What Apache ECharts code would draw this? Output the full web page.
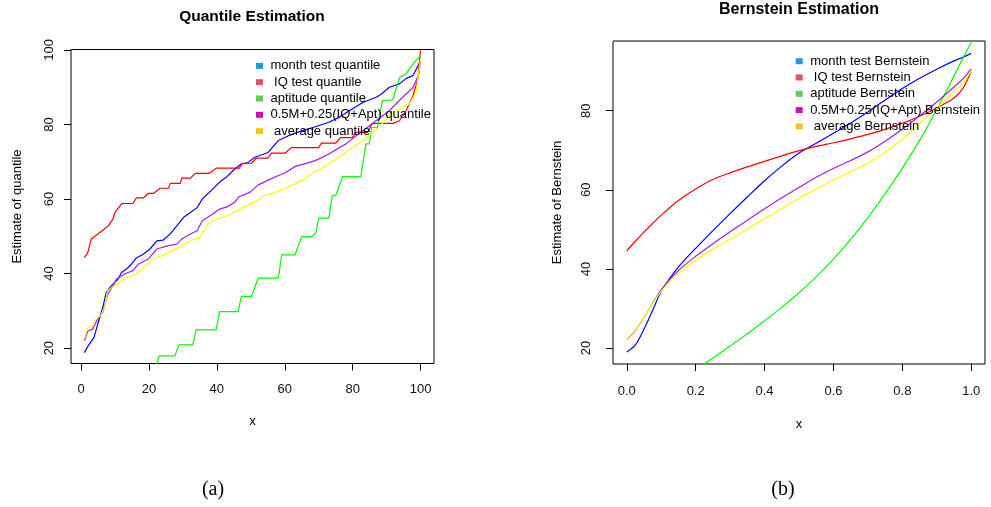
<!DOCTYPE html>
<html>
<head>
<meta charset="utf-8">
<title>Quantile and Bernstein Estimation</title>
<style>
html, body { margin: 0; padding: 0; background: #fff; }
#main { width: 991px; height: 507px; }
</style>
</head>
<body>
<div id="main"></div>
<script src="https://cdn.jsdelivr.net/npm/echarts@6/dist/echarts.min.js"></script>
<script>
// ---- data ----
// (a) quantile estimates, [x, value]
var quantileMonth = [[1,18.8],[2,20.5],[3.8,22.8],[4.9,26.4],[6.4,30.9],[7.4,34.9],[8.9,36.7],[10.9,38.5],[11.9,40.3],[13.4,41.2],[14.8,42.5],[16.3,44.2],[18.3,45.2],[20.3,46.6],[22.3,48.8],[24.2,49.0],[26.2,50.6],[28.2,52.8],[30.2,55.1],[32.2,56.4],[34.2,57.7],[35.7,60.0],[37.8,61.8],[39.8,63.6],[41.3,64.9],[43,66.0],[45.2,68.0],[47.2,69.4],[49,69.7],[51.2,71.2],[55.1,72.5],[58.1,75.7],[61.1,77.0],[65,78.3],[69,79.4],[73,80.6],[76,81.9],[79,83.7],[83,85.9],[86.9,87.3],[88.5,88.2],[90.8,90.0],[93.8,90.9],[95.7,92.3],[97.7,93.1],[100,97.0]];
var quantileIQ = [[1,44.3],[2,45.7],[3,49.3],[5,50.6],[6.5,51.7],[8,52.8],[9.4,54.6],[10,56.4],[12,58.8],[15.3,58.8],[16.3,60.3],[18.3,60.3],[19.8,61.5],[21.3,61.5],[23.3,62.9],[25.8,62.9],[26.3,64.2],[29.2,64.2],[29.7,65.6],[32.2,65.6],[33.7,66.9],[37.8,66.9],[39.8,68.3],[46.6,68.3],[47.6,69.6],[50.2,69.6],[51.7,71.0],[55.1,71.0],[56,72.3],[60.1,72.3],[61.9,73.8],[70,73.8],[70.8,75.0],[75,75.0],[76.4,76.5],[79.9,76.5],[81,77.9],[84.4,77.9],[85.8,80.3],[92,80.3],[93.8,81.0],[95.7,83.7],[97.7,87.5],[99.2,92.2],[100,100]];
var quantileApt = [[22,14.9],[23,17.9],[27.6,17.9],[28.9,20.9],[32.9,20.9],[33.9,24.9],[39.8,24.9],[40.8,29.8],[46.3,29.8],[47.2,33.9],[50.2,33.9],[52.2,38.8],[58.1,38.8],[59.1,45.0],[63,45.0],[65,49.9],[68,49.9],[69.2,51.0],[70,54.9],[73,54.9],[74,60.9],[75,60.9],[77,66.0],[82.4,66.0],[83.9,74.8],[84.9,74.8],[85.6,79.2],[87.3,79.2],[88.3,84.2],[88.8,86.4],[91.8,86.6],[93.8,92.6],[95.7,93.5],[97.7,96.2],[100,98.5]];
var quantileMix = [[1,22.0],[2,24.6],[3.4,25.1],[4.9,27.8],[6.4,29.6],[7.9,34.5],[9.4,36.7],[10.4,38.5],[12.8,39.9],[15.3,40.8],[16.8,42.5],[19.8,43.9],[22.3,46.6],[25.7,47.5],[28.2,47.9],[29.7,49.3],[32.2,50.6],[34.2,51.5],[35.7,54.2],[38.8,56.0],[40.8,57.3],[43,57.9],[45.2,59.1],[46.5,60.6],[49.7,61.8],[52.2,63.8],[55,65.0],[58.1,66.3],[60,67.0],[63,68.7],[66,69.5],[69,70.3],[73,72.1],[78,74.8],[83,78.3],[86.9,81.0],[90.8,83.7],[94.7,87.3],[97.7,89.8],[99.5,93.5],[100,97.0]];
var quantileAvg = [[1,22.5],[2,25.5],[3.4,25.9],[4.4,27.8],[5.9,28.9],[6.9,31.0],[7.9,35.4],[9.4,36.5],[11.3,37.6],[13.8,39.1],[16.3,39.9],[18.3,41.6],[21.3,43.9],[23.8,44.8],[26.8,46.1],[29.7,47.5],[32.2,48.8],[34.7,49.5],[35.7,51.0],[37.8,53.7],[40,54.6],[42,55.2],[44,55.8],[46,56.9],[48,57.9],[51.2,59.3],[54,60.9],[57.1,61.8],[62,63.6],[65,65.0],[67.9,66.7],[70,67.8],[73,69.4],[76,71.3],[79,73.2],[83,75.7],[86.9,78.5],[90.8,82.4],[94.7,84.6],[96.7,85.5],[98.7,88.6],[100,97.5]];

// (b) Bernstein estimates on a common grid
var bernX      = [0, 0.025, 0.05, 0.075, 0.1, 0.15, 0.2, 0.25, 0.3, 0.35, 0.4, 0.45, 0.5, 0.55, 0.6, 0.65, 0.7, 0.75, 0.8, 0.85, 0.9, 0.95, 0.975, 1];
var bernMonth  = [19.0, 20.8, 24.8, 29.5, 34.3, 40.5, 45.2, 49.7, 54.0, 58.2, 62.3, 66.0, 69.3, 71.8, 74.3, 76.9, 79.7, 82.7, 85.6, 88.2, 90.5, 92.6, 93.5, 94.5];
var bernIQ     = [44.6, 47.0, 49.3, 51.5, 53.6, 57.3, 60.2, 62.6, 64.3, 65.8, 67.2, 68.6, 69.9, 71.0, 71.9, 72.9, 74.0, 75.3, 76.8, 78.6, 80.7, 83.2, 85.5, 89.9];
var bernApt    = [null, null, null, null, null, null, 14.6, 17.5, 20.5, 23.6, 26.9, 30.3, 34.0, 38.0, 42.5, 47.5, 53.0, 59.0, 65.5, 72.5, 80.3, 88.8, 93.1, 97.3];
var bernMix    = [22.2, 24.5, 27.8, 31.3, 34.8, 39.6, 43.2, 46.4, 49.4, 52.3, 55.2, 58.0, 60.6, 63.2, 65.4, 67.4, 69.6, 72.3, 75.3, 78.7, 82.2, 86.0, 88.0, 90.6];
var bernAvg    = [22.3, 24.6, 27.9, 31.2, 34.4, 38.9, 42.2, 45.0, 47.6, 50.1, 52.7, 55.3, 57.9, 60.2, 62.5, 64.6, 66.8, 69.5, 72.8, 76.7, 80.7, 84.8, 87.0, 90.0];

// tick labels
var quantileXTicks = [0, 20, 40, 60, 80, 100];
var quantileYTicks = [20, 40, 60, 80, 100];
var bernXTicks = [0, 0.2, 0.4, 0.6, 0.8, 1.0];
var bernYTicks = [20, 40, 60, 80];

// legend names
var quantileNames = ['month test quantile', ' IQ test quantile', 'aptitude quantile', '0.5M+0.25(IQ+Apt) quantile', ' average quantile'];
var bernNames = ['month test Bernstein', ' IQ test Bernstein', 'aptitude Bernstein', '0.5M+0.25(IQ+Apt) Bernstein', ' average Bernstein'];

var lineColors = ['#0000ff', '#ff0000', '#00ff00', '#a020f0', '#ffff00'];
var keyColors = ['#2297e6', '#df536b', '#61d04f', '#cd0bbc', '#f5c710'];

var FONT = '"Liberation Sans", Arial, sans-serif';

function pairs(xs, ys) {
    var out = [];
    for (var i = 0; i < xs.length; i++) {
        if (ys[i] != null) out.push([xs[i], ys[i]]);
    }
    return out;
}

function xAxis(gi, min, max, ticks, fmt, margin, gap) {
    return {
        type: 'value', gridIndex: gi, min: min, max: max,
        name: 'x', nameLocation: 'middle', nameGap: gap,
        nameTextStyle: { fontFamily: FONT, fontSize: 13, color: '#000' },
        axisLine: { show: false, onZero: false },
        axisTick: { show: true, customValues: ticks, length: 7, lineStyle: { color: '#000', width: 1 } },
        axisLabel: { customValues: ticks, formatter: fmt, margin: margin, fontFamily: FONT, fontSize: 13, color: '#111' },
        splitLine: { show: false }
    };
}

function yAxis(gi, min, max, ticks, name, gap, margin) {
    return {
        type: 'value', gridIndex: gi, min: min, max: max,
        name: name, nameLocation: 'middle', nameGap: gap,
        nameTextStyle: { fontFamily: FONT, fontSize: 13, color: '#000' },
        axisLine: { show: false, onZero: false },
        axisTick: { show: true, customValues: ticks, length: 7, lineStyle: { color: '#000', width: 1 } },
        axisLabel: { customValues: ticks, rotate: 90, margin: margin, fontFamily: FONT, fontSize: 13, color: '#111' },
        splitLine: { show: false }
    };
}

function legend(left, top, names) {
    return {
        orient: 'vertical', left: left, top: top,
        itemWidth: 7, itemHeight: 6, itemGap: 2.3,
        selectedMode: false,
        textStyle: { fontFamily: FONT, fontSize: 13, color: '#000', lineHeight: 14, padding: [0, 0, 0, 2.5] },
        data: names.map(function (n, i) {
            return { name: n, icon: 'rect', itemStyle: { color: keyColors[i], borderWidth: 0 } };
        })
    };
}

var quantileData = [quantileMonth, quantileIQ, quantileApt, quantileMix, quantileAvg];
var bernData = [bernMonth, bernIQ, bernApt, bernMix, bernAvg];

var series = [];
quantileNames.forEach(function (n, i) {
    series.push({
        name: n, type: 'line', xAxisIndex: 0, yAxisIndex: 0,
        data: quantileData[i], showSymbol: false, symbol: 'none', clip: true,
        color: lineColors[i], lineStyle: { width: 1.2, color: lineColors[i] }
    });
});
bernNames.forEach(function (n, i) {
    series.push({
        name: n, type: 'line', xAxisIndex: 1, yAxisIndex: 1,
        data: pairs(bernX, bernData[i]), showSymbol: false, symbol: 'none', clip: true,
        smooth: 0.3,
        color: lineColors[i], lineStyle: { width: 1.2, color: lineColors[i] }
    });
});

var myChart = echarts.init(document.getElementById('main'));
var option = {
    animation: false,
    backgroundColor: '#fff',
    grid: [
        { left: 71, top: 49.5, width: 363, height: 314, show: true, borderColor: '#000', borderWidth: 1, backgroundColor: 'transparent' },
        { left: 613, top: 41, width: 372, height: 323, show: true, borderColor: '#000', borderWidth: 1, backgroundColor: 'transparent' }
    ],
    xAxis: [
        xAxis(0, -2.96, 103.96, quantileXTicks, function (v) { return String(v); }, 19, 51),
        xAxis(1, -0.04, 1.04, bernXTicks, function (v) { return v.toFixed(1); }, 21, 54)
    ],
    yAxis: [
        yAxis(0, 15.88, 100.12, quantileYTicks, 'Estimate of quantile', 47, 15),
        yAxis(1, 15.98, 97.62, bernYTicks, 'Estimate of Bernstein', 49.5, 20)
    ],
    legend: [
        legend(251, 53.9, quantileNames),
        legend(790.7, 49.2, bernNames)
    ],
    graphic: [
        { type: 'text', x: 252, y: 17, style: { text: 'Quantile Estimation', font: 'bold 15.5px ' + FONT, fill: '#000', align: 'center', verticalAlign: 'middle' } },
        { type: 'text', x: 799, y: 9.5, style: { text: 'Bernstein Estimation', font: 'bold 16px ' + FONT, fill: '#000', align: 'center', verticalAlign: 'middle' } },
        { type: 'text', x: 213, y: 490, style: { text: '(a)', font: '20px "Liberation Serif", serif', fill: '#000', align: 'center', verticalAlign: 'middle' } },
        { type: 'text', x: 783, y: 490, style: { text: '(b)', font: '20px "Liberation Serif", serif', fill: '#000', align: 'center', verticalAlign: 'middle' } }
    ],
    series: series
};
myChart.setOption(option);
</script>
</body>
</html>
